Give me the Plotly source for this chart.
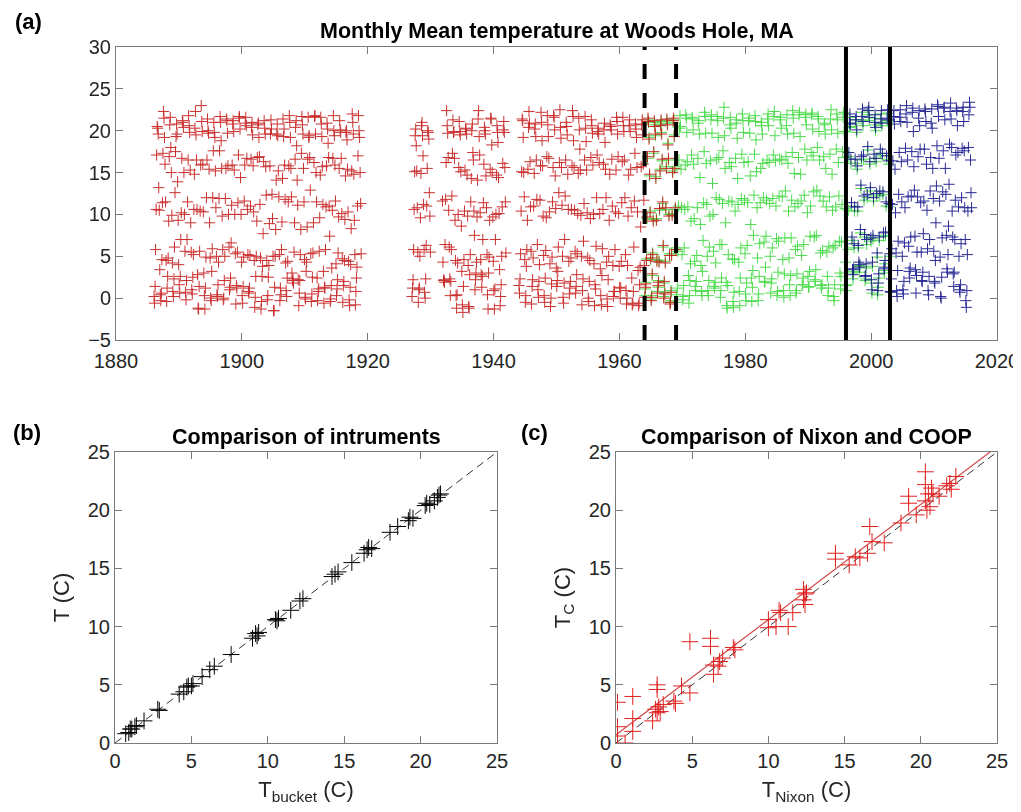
import numpy as np
import plotly.graph_objects as go

# ---- panel (a): monthly mean temperature, one row per year, Jan..Dec (None = missing)
bucket_years = list(range(1886, 1919)) + [1927, 1928, 1929, 1931] + list(range(1932, 1942)) + list(range(1944, 1969))
bucket_temps = [
    [0.2, -0.6, 1.4, 5.8, 10.6, 17.1, 20.5, 20.3, 19.6, 13.2, 10.5, 3.4],
    [0.4, -0.3, 0.6, 4.6, 11.4, 17.3, 22.3, 21.5, 19.2, 16.0, 11.5, 4.5],
    [-0.4, 1.2, 2.6, 4.8, 9.2, 16.9, 20.7, 21.6, 18.0, 15.0, 9.9, 4.2],
    [0.8, 0.2, 2.3, 6.1, 12.6, 17.5, 19.3, 20.8, 19.6, 13.9, 9.3, 4.0],
    [1.6, 0.6, 2.6, 7.0, 10.2, 16.7, 21.2, 21.0, 20.4, 15.0, 10.0, 5.6],
    [0.7, -0.2, 2.1, 7.0, 11.5, 16.5, 21.8, 20.6, 19.8, 15.3, 9.0, 5.5],
    [1.0, 0.5, 2.5, 5.2, 10.6, 14.8, 20.3, 22.3, 19.5, 16.5, 10.6, 2.8],
    [-1.2, -1.3, 1.4, 5.6, 10.4, 15.9, 23.0, 21.1, 19.9, 16.0, 10.3, 3.0],
    [0.3, -1.3, 1.2, 4.9, 12.0, 16.5, 21.4, 20.0, 19.7, 15.4, 9.0, 4.8],
    [0.0, -0.3, 3.2, 5.9, 12.0, 17.6, 21.0, 19.8, 19.2, 15.2, 10.8, 5.0],
    [0.4, 0.2, 1.6, 4.3, 11.9, 17.6, 21.7, 21.0, 18.8, 15.5, 9.8, 5.8],
    [-0.2, 0.0, 2.1, 5.0, 11.9, 15.5, 21.4, 21.2, 19.7, 15.8, 10.0, 6.1],
    [1.0, 1.3, 2.4, 6.6, 11.1, 15.9, 20.8, 21.2, 19.9, 15.3, 10.0, 5.3],
    [-0.7, 1.5, 1.2, 5.5, 11.4, 17.1, 21.5, 21.7, 20.2, 14.4, 10.0, 4.3],
    [0.3, -0.6, 1.4, 4.9, 11.6, 15.9, 20.9, 21.6, 20.6, 16.7, 10.6, 5.2],
    [0.8, 0.6, 1.2, 5.1, 11.0, 16.6, 20.4, 21.0, 19.5, 15.8, 10.3, 4.5],
    [-1.1, 0.1, 2.6, 5.0, 9.2, 16.8, 20.7, 20.9, 19.2, 16.9, 11.2, 4.8],
    [-1.3, -0.4, 2.6, 3.8, 7.7, 16.3, 21.2, 20.3, 19.6, 15.7, 12.3, 4.5],
    [-0.2, 0.3, 2.5, 3.9, 8.9, 15.8, 19.6, 21.3, 20.2, 12.4, 9.5, 5.0],
    [-1.5, -1.5, 1.3, 5.0, 8.2, 14.1, 19.6, 20.8, 19.4, 15.2, 12.1, 5.2],
    [-0.3, 1.2, 0.4, 5.8, 9.1, 14.3, 21.4, 19.3, 20.2, 15.9, 11.8, 4.2],
    [0.9, 0.2, 2.4, 4.4, 11.5, 15.8, 21.8, 21.0, 19.2, 15.5, 12.1, 3.0],
    [2.1, 2.3, 1.8, 5.5, 9.0, 16.6, 20.4, 21.2, 18.2, 14.1, 11.1, 2.2],
    [-0.9, 0.6, 2.1, 5.2, 8.2, 17.3, 21.7, 20.7, 19.6, 15.5, 11.5, 4.6],
    [0.1, -0.1, 3.2, 4.3, 8.5, 16.6, 21.6, 19.2, 19.4, 16.8, 12.9, 5.3],
    [-0.4, 0.5, 2.5, 5.4, 9.0, 16.2, 21.7, 21.8, 19.6, 15.0, 11.5, 2.4],
    [-0.3, 0.8, 1.1, 5.6, 9.6, 14.7, 21.6, 20.8, 19.3, 15.7, 11.2, 3.2],
    [-0.6, 1.3, 1.2, 5.8, 10.9, 15.8, 20.9, 20.2, 18.5, 16.8, 11.0, 7.4],
    [-0.4, -0.1, 1.5, 3.6, 10.5, 16.7, 21.8, 20.0, 19.4, 15.9, 11.6, 4.1],
    [0.3, 1.1, 2.2, 5.4, 9.7, 15.5, 21.2, 20.1, 19.8, 16.7, 10.1, 4.7],
    [-0.5, 1.5, 2.0, 4.5, 9.4, 14.6, 19.8, 20.0, 18.9, 15.4, 10.3, 4.4],
    [-0.2, -0.9, 1.3, 4.0, 8.3, 15.2, 22.0, 21.0, 19.6, 14.8, 9.3, 5.2],
    [-0.8, 0.8, 2.4, 3.7, 11.0, 17.0, 21.8, 20.0, 19.2, 15.0, 11.3, 5.3],
    [0.2, 1.2, 2.2, 5.8, 10.6, 15.1, 19.4, 20.2, 18.2, 15.2, 10.8, 5.5],
    [-0.5, 1.0, 1.2, 5.0, 9.6, 14.9, 20.6, 21.0, 19.4, 17.0, 11.2, 5.8],
    [0.7, 0.0, 2.3, 6.3, 11.0, 15.5, 20.0, 19.8, 19.0, 12.6, 9.8, 5.5],
    [None, None, None, None, None, None, None, None, None, None, 11.6, 4.3],
    [2.1, 2.2, 1.9, 6.4, 11.8, 16.2, 22.4, 20.6, 19.7, 16.8, 10.5, 6.1],
    [2.3, 0.3, 2.0, 5.8, 12.2, 17.3, 21.3, 19.8, 19.9, 16.7, 9.3, 4.5],
    [0.3, -1.2, 0.4, 4.2, 10.0, 15.6, 21.1, 19.9, 19.5, 15.1, 8.6, 3.2],
    [-0.8, -1.7, 1.4, 4.6, 10.4, 15.3, 20.2, 20.3, 19.6, 14.7, 9.8, 3.9],
    [-1.0, -1.2, 2.8, 5.2, 11.5, 14.3, 20.0, 20.8, 17.4, 16.5, 10.4, 7.5],
    [1.0, 2.2, 3.0, 4.3, 9.7, 14.1, 21.4, 22.4, 19.3, 17.1, 10.2, 4.6],
    [2.8, 1.3, 2.6, 7.0, 11.4, 16.0, 20.4, 20.0, 19.6, 14.6, 10.8, 5.2],
    [0.4, -1.3, 3.0, 4.9, 9.3, 15.4, 21.5, 21.4, 18.3, 15.0, 9.7, 4.4],
    [0.9, -1.3, 1.1, 7.0, 10.0, 14.7, 20.6, 19.8, 18.6, 14.4, 10.1, 3.4],
    [-0.9, 0.2, 1.6, 5.0, 10.9, 16.1, 20.1, 21.1, 19.8, 15.6, 11.5, 5.4],
    [1.5, 0.6, 2.3, 5.3, 10.4, 15.1, 21.4, 21.2, 19.2, 15.0, 12.1, 4.6],
    [-0.5, 0.3, 3.8, 5.8, 9.3, 15.4, 20.4, 22.3, 20.9, 16.3, 10.9, 5.6],
    [-0.7, 1.4, 2.2, 4.8, 11.0, 14.9, 20.2, 20.8, 19.3, 16.5, 11.8, 6.4],
    [1.0, 0.1, 2.0, 4.0, 11.7, 15.8, 22.2, 21.0, 18.8, 15.8, 9.8, 5.1],
    [0.3, -0.5, 2.4, 5.7, 9.6, 16.9, 21.8, 20.7, 19.3, 16.7, 10.3, 4.1],
    [-1.0, 0.0, 1.7, 4.9, 11.5, 15.6, 21.8, 21.6, 20.1, 14.6, 10.7, 3.6],
    [1.4, 2.1, 3.2, 6.1, 12.6, 16.2, 22.5, 20.4, 19.1, 15.6, 11.1, 5.0],
    [0.1, -0.6, 1.8, 7.0, 12.2, 16.5, 21.0, 20.5, 19.5, 14.8, 10.6, 4.4],
    [0.5, 1.2, 2.0, 4.8, 10.6, 15.8, 22.4, 21.7, 18.8, 15.6, 10.5, 5.6],
    [0.6, 1.4, 2.8, 5.3, 10.1, 14.9, 21.5, 20.1, 17.8, 15.3, 9.9, 5.0],
    [-0.8, 0.9, 2.3, 6.8, 11.3, 16.5, 21.7, 20.3, 18.7, 15.3, 10.2, 4.8],
    [0.0, -0.4, 2.0, 4.5, 9.5, 16.8, 21.3, 20.6, 19.7, 15.9, 10.0, 4.1],
    [-0.9, 1.6, 1.1, 6.2, 12.0, 17.1, 19.9, 20.3, 19.6, 16.2, 10.1, 3.5],
    [0.3, -0.8, 2.7, 5.9, 10.6, 16.0, 20.1, 20.9, 18.6, 15.4, 12.0, 4.3],
    [-0.1, -1.0, 2.2, 5.0, 9.3, 14.8, 20.7, 20.5, 20.1, 16.6, 11.0, 3.9],
    [0.2, 0.8, 0.8, 5.8, 10.3, 15.3, 21.6, 21.1, 19.6, 16.9, 10.1, 3.8],
    [1.3, 0.0, 1.2, 4.4, 11.4, 16.3, 21.6, 20.6, 19.9, 16.5, 12.0, 5.2],
    [0.9, -0.7, 0.0, 3.9, 9.8, 14.7, 20.6, 21.3, 19.9, 15.4, 10.8, 2.4],
    [-0.8, -0.6, 0.8, 6.1, 11.6, 17.3, 20.8, 20.2, 19.2, 15.6, 10.3, 3.3],
    [-0.9, -0.6, 1.6, 3.7, 8.5, 15.7, 20.7, 21.3, 19.5, 16.0, 11.7, 3.9],
    [0.1, 1.3, 1.7, 4.5, 9.7, 16.9, 21.5, 21.1, 19.0, 14.8, 10.2, 4.8],
    [-0.3, 0.1, 2.9, 5.2, 9.2, 17.5, 21.2, 20.5, 19.6, 14.3, 9.3, 4.4],
    [0.6, 1.5, 1.9, 4.3, 10.7, 15.2, 20.6, 21.3, 19.6, 16.6, 11.5, 6.3],
    [0.0, 2.0, 0.5, 4.2, 10.8, 15.5, 21.4, 20.7, 18.3, 16.7, 9.8, 5.1],
    [-0.7, -0.5, 0.7, 5.1, 9.9, 15.0, 21.2, 21.5, 19.3, 15.5, 10.8, 5.8],
]

nixon_years = list(range(1964, 2003))
nixon_temps = [
    [0.3, 1.1, 1.9, 4.7, 9.5, 16.7, 21.3, 21.0, 19.2, 14.6, 10.4, 4.6],
    [-0.1, 0.3, 2.7, 5.4, 9.4, 17.3, 21.0, 20.7, 19.4, 14.5, 9.5, 4.6],
    [0.8, 1.3, 2.1, 4.5, 10.5, 15.4, 20.8, 21.1, 19.8, 16.4, 11.3, 6.1],
    [0.2, 1.8, 0.7, 4.4, 10.6, 15.7, 21.2, 20.9, 18.5, 16.5, 10.0, 5.3],
    [-0.5, -0.3, 0.9, 5.3, 10.1, 15.2, 21.0, 21.3, 19.5, 15.7, 10.6, 6.0],
    [0.4, -0.5, 1.2, 5.6, 11.0, 16.5, 20.3, 21.8, 20.5, 15.4, 10.8, 5.2],
    [-0.2, 0.2, 1.5, 6.0, 10.6, 15.9, 21.9, 21.5, 19.8, 16.3, 10.9, 2.7],
    [-0.6, 0.3, 2.1, 4.1, 9.2, 17.1, 21.6, 21.4, 20.1, 16.0, 9.5, 4.4],
    [1.4, 0.9, 2.0, 5.1, 10.8, 16.7, 20.9, 21.2, 19.6, 14.4, 8.8, 3.9],
    [0.8, 0.3, 3.2, 6.9, 11.4, 17.5, 22.2, 21.7, 19.7, 16.1, 11.2, 5.0],
    [0.9, 0.3, 2.1, 6.1, 9.8, 16.4, 21.3, 21.9, 19.7, 13.7, 10.0, 5.6],
    [1.4, 1.2, 1.9, 4.2, 12.0, 16.6, 21.7, 21.2, 19.2, 16.8, 11.8, 6.4],
    [0.1, 0.9, 2.4, 6.4, 11.3, 17.6, 21.5, 22.8, 19.4, 15.5, 9.0, 1.9],
    [-0.9, -1.2, 1.5, 5.2, 11.6, 16.2, 20.7, 21.6, 20.3, 15.7, 11.5, 4.7],
    [-0.4, -1.1, 0.7, 4.6, 10.4, 16.7, 20.9, 21.3, 19.1, 14.3, 11.2, 4.3],
    [0.8, -0.9, 2.4, 6.0, 11.9, 17.2, 22.0, 21.2, 19.8, 16.2, 11.7, 5.3],
    [0.5, -0.3, 1.8, 6.3, 11.4, 16.3, 21.2, 21.5, 19.7, 14.6, 8.8, 2.4],
    [-0.4, 1.3, 3.3, 7.5, 12.3, 17.2, 21.8, 21.1, 18.9, 15.1, 10.8, 4.8],
    [-0.3, 0.5, 2.6, 6.5, 11.4, 15.5, 21.0, 20.6, 19.6, 16.1, 12.0, 6.7],
    [1.9, 2.0, 3.7, 7.4, 11.7, 16.5, 21.4, 22.0, 20.6, 16.2, 11.3, 5.0],
    [0.6, 1.8, 2.3, 6.0, 11.9, 17.1, 21.7, 22.3, 19.4, 16.4, 11.0, 7.1],
    [0.3, 0.8, 3.1, 6.8, 12.2, 16.6, 21.3, 21.6, 20.3, 16.5, 12.1, 4.6],
    [0.9, 0.1, 2.9, 7.2, 12.8, 16.9, 20.6, 21.9, 19.6, 16.1, 10.4, 4.8],
    [1.6, 0.3, 2.7, 7.2, 11.7, 17.4, 22.4, 21.5, 19.7, 14.9, 10.9, 5.8],
    [0.6, 0.9, 2.9, 6.2, 11.3, 16.8, 21.9, 22.2, 19.3, 14.8, 11.6, 5.1],
    [1.6, 1.6, 2.4, 6.4, 12.3, 17.8, 21.6, 22.0, 20.7, 16.5, 10.2, 2.6],
    [1.3, 1.4, 3.2, 7.4, 11.0, 17.4, 21.9, 22.1, 20.2, 17.0, 12.7, 7.3],
    [2.2, 2.0, 3.4, 7.5, 12.9, 18.0, 21.7, 21.4, 19.9, 16.5, 12.2, 5.4],
    [1.5, 1.2, 1.6, 5.7, 11.6, 16.9, 20.7, 20.9, 19.6, 15.5, 10.9, 5.5],
    [2.6, 0.3, 1.2, 6.2, 12.1, 17.2, 21.4, 22.5, 20.1, 14.8, 10.5, 6.0],
    [0.2, -0.3, 1.6, 6.3, 10.9, 17.8, 22.0, 21.3, 19.7, 16.2, 12.2, 6.8],
    [3.0, 1.1, 2.6, 6.7, 11.2, 17.5, 21.6, 22.2, 19.9, 16.8, 10.7, 4.3],
    [1.5, 0.9, 1.6, 5.8, 10.5, 16.9, 20.4, 21.6, 20.5, 16.1, 11.0, 6.9],
    [3.0, 2.3, 3.2, 6.0, 10.4, 16.1, 20.9, 21.3, 19.8, 15.4, 10.4, 6.0],
    [3.9, 3.1, 3.8, 7.8, 13.1, 16.5, 21.3, 22.2, 20.6, 16.6, 11.7, 7.3],
    [2.1, 2.3, 3.6, 6.4, 12.0, 17.7, 21.9, 22.4, 21.2, 16.0, 12.8, 6.8],
    [1.8, 0.6, 3.8, 7.1, 11.6, 16.7, 20.7, 21.5, 20.0, 16.3, 12.2, 4.9],
    [0.4, 1.3, 2.4, 6.9, 12.3, 17.3, 21.0, 22.0, 20.6, 17.0, 12.4, 7.4],
    [3.3, 3.0, 4.1, 7.5, 11.0, 16.6, 21.2, 22.1, 21.0, 16.0, 10.9, 5.0],
]

coop_years = list(range(1996, 2016))
coop_temps = [
    [None, None, None, None, None, 17.4, 20.9, 22.0, 20.8, 16.6, 11.4, 7.3],
    [3.4, 2.8, 3.5, 6.5, 10.9, 16.6, 21.3, 21.7, 20.1, 15.8, 10.9, 6.3],
    [4.3, 3.7, 4.0, 8.2, 13.5, 16.9, 21.7, 22.6, 21.1, 17.1, 12.2, 7.6],
    [2.6, 2.7, 4.1, 7.0, 12.4, 18.1, 22.4, 22.8, 21.6, 16.3, 13.2, 7.2],
    [2.2, 1.0, 4.3, 7.5, 12.0, 17.2, 21.0, 21.9, 20.4, 16.7, 12.5, 5.4],
    [0.9, 1.8, 2.9, 7.3, 12.8, 17.8, 21.4, 22.4, 20.9, 17.3, 12.7, 7.8],
    [3.7, 3.5, 4.5, 7.9, 11.5, 17.0, 21.5, 22.5, 21.3, 16.4, 11.3, 5.3],
    [0.8, 0.7, 2.3, 5.9, 11.2, 16.4, 21.7, 22.4, 20.8, 15.4, 10.2, 5.4],
    [0.9, 0.2, 3.3, 6.8, 12.4, 17.4, 21.6, 22.5, 21.1, 16.3, 11.5, 5.0],
    [1.0, 0.5, 2.0, 6.6, 10.8, 17.9, 22.0, 23.0, 21.0, 16.5, 12.1, 6.2],
    [3.2, 2.4, 3.6, 7.3, 12.2, 17.5, 22.2, 22.7, 19.9, 15.7, 12.9, 7.4],
    [3.4, 0.6, 2.7, 5.5, 12.1, 16.9, 21.5, 22.4, 20.6, 17.8, 11.4, 5.5],
    [2.1, 2.0, 3.1, 7.7, 11.6, 17.8, 22.6, 22.3, 21.1, 16.0, 10.5, 5.9],
    [0.9, 0.4, 2.6, 7.0, 12.8, 16.8, 20.9, 22.6, 20.3, 15.5, 11.9, 5.6],
    [2.0, 1.8, 4.5, 9.0, 13.4, 18.2, 23.1, 22.9, 21.7, 16.7, 11.6, 4.9],
    [0.2, 0.0, 2.5, 7.2, 12.7, 17.6, 22.7, 22.8, 21.3, 15.5, 12.4, 7.5],
    [3.5, 3.1, 5.2, 8.6, 13.6, 18.4, 22.3, 23.3, 21.4, 18.0, 10.4, 7.3],
    [2.9, 1.4, 3.1, 7.0, 11.7, 17.1, 22.7, 22.4, 20.6, 17.4, 10.9, 5.0],
    [1.0, 0.7, 1.6, 6.5, 12.0, 17.9, 22.3, 22.8, 21.1, 17.6, 10.8, 7.0],
    [-0.3, -1.1, 0.9, 5.2, 10.4, 18.0, 21.9, 23.4, 22.8, 16.5, 12.6, 10.8],
]

instrument_changes_dashed = [1964, 1969]
instrument_changes_solid = [1996, 2003]

# ---- panel (b): bucket vs thermometer
t_bucket = [0.7, 0.9, 1.0, 1.1, 1.3, 1.4, 1.9, 2.8, 2.9, 4.2, 4.5, 4.7, 4.8, 5.0, 5.1,
            5.7, 6.2, 6.5, 7.6, 9.0, 9.2, 9.3, 9.4, 10.5, 10.6, 10.7, 11.5, 12.1, 12.3,
            14.2, 14.4, 14.6, 15.5, 16.3, 16.5, 16.6, 16.8, 18.0, 18.5, 19.2, 19.3, 19.5,
            20.3, 20.4, 20.6, 20.9, 21.1, 21.2, 21.3]
t_inst = [0.8, 0.9, 1.2, 1.2, 1.4, 1.5, 1.9, 2.9, 2.8, 4.2, 4.4, 4.8, 4.9, 4.9, 5.1,
          5.7, 6.3, 6.6, 7.6, 9.0, 9.4, 9.2, 9.5, 10.6, 10.5, 10.7, 11.4, 12.2, 12.4,
          14.3, 14.5, 14.7, 15.5, 16.3, 16.6, 16.8, 16.7, 18.1, 18.6, 19.1, 19.4, 19.3,
          20.4, 20.6, 20.5, 20.8, 21.1, 21.3, 21.4]

# ---- panel (c): Nixon vs COOP
t_nixon = [0.1, 0.1, 0.1, 0.6, 1.1, 1.1, 1.1, 2.4, 2.7, 2.7, 2.6, 2.8, 2.9, 2.7, 3.1,
           3.8, 3.9, 4.3, 4.85, 4.85, 6.2, 6.2, 6.4, 6.4, 6.7, 6.8, 7.0, 7.7, 7.8,
           10.0, 10.0, 10.5, 10.7, 10.8, 11.3, 11.6, 12.3, 12.3, 12.4, 12.4, 12.5,
           14.4, 14.4, 15.3, 15.7, 16.0, 16.5, 16.65, 16.8, 17.6, 18.7, 19.2, 19.2, 19.7,
           20.3, 20.3, 20.3, 20.4, 20.5, 20.6, 20.7, 20.8, 21.2, 21.7, 21.9, 22.0, 22.3]
t_coop = [3.5, 1.4, 0.6, 0.0, 4.0, 2.1, 1.0, 1.9, 5.0, 4.6, 2.9, 3.1, 2.7, 2.6, 3.3,
          3.6, 3.4, 4.9, 8.7, 4.3, 9.0, 8.3, 6.7, 5.9, 6.6, 7.0, 7.3, 8.2, 8.0,
          10.6, 9.9, 10.0, 11.4, 11.2, 10.0, 11.2, 13.2, 12.3, 12.8, 11.9, 12.9,
          16.3, 15.8, 15.3, 16.0, 15.9, 16.3, 18.6, 17.3, 17.2, 18.9, 21.2, 20.6, 19.6,
          23.3, 22.2, 20.8, 20.0, 21.4, 20.3, 21.9, 21.4, 21.2, 22.1, 22.3, 21.8, 22.9]

# page is drawn 8px in from the top-left corner (body margin), so the figure is 8px smaller
OFF = 8
W, H = 1021 - OFF, 812 - OFF
FONT = "Liberation Sans, Arial, sans-serif"
AX = "#262626"
RED = "#c41818"
GREEN = "#3ad83a"
BLUE = "#14148c"


def monthly_points(years, rows):
    xs, ys = [], []
    for yr, row in zip(years, rows):
        for m, t in enumerate(row):
            if t is None:
                continue
            xs.append(yr + (m + 0.5) / 12)
            ys.append(t)
    return xs, ys


def sx(px):
    return (px - OFF) / W


def sy(py):
    return 1 - (py - OFF) / H


fig = go.Figure()

for years, rows, color in [(nixon_years, nixon_temps, GREEN),
                           (bucket_years, bucket_temps, RED),
                           (coop_years, coop_temps, BLUE)]:
    xs, ys = monthly_points(years, rows)
    fig.add_trace(go.Scatter(
        x=xs, y=ys, mode="markers", xaxis="x", yaxis="y",
        marker=dict(symbol="cross-thin", size=8, line=dict(width=1, color=color)),
        opacity=0.9, showlegend=False,
    ))

for yr in instrument_changes_dashed:
    fig.add_trace(go.Scatter(x=[yr, yr], y=[-5, 30], mode="lines", xaxis="x", yaxis="y",
                             line=dict(color="black", width=4, dash="15px,14px"), showlegend=False))
for yr in instrument_changes_solid:
    fig.add_trace(go.Scatter(x=[yr, yr], y=[-5, 30], mode="lines", xaxis="x", yaxis="y",
                             line=dict(color="black", width=4), showlegend=False))

# panel b
fig.add_trace(go.Scatter(x=[0, 25], y=[0, 25], mode="lines", xaxis="x2", yaxis="y2",
                         line=dict(color="#333333", width=1, dash="8px,5px"), showlegend=False))
fig.add_trace(go.Scatter(x=t_bucket, y=t_inst, mode="markers", xaxis="x2", yaxis="y2",
                         marker=dict(symbol="cross-thin", size=12, line=dict(width=1, color="black")),
                         showlegend=False))

# panel c
slope, icpt = np.polyfit(t_nixon, t_coop, 1)
fig.add_trace(go.Scatter(x=[0, 25], y=[0, 25], mode="lines", xaxis="x3", yaxis="y3",
                         line=dict(color="#333333", width=1, dash="8px,5px"), showlegend=False))
fig.add_trace(go.Scatter(x=[0, 25], y=[icpt, icpt + 25 * slope], mode="lines", xaxis="x3", yaxis="y3",
                         line=dict(color="#d04848", width=1.2), showlegend=False))
fig.add_trace(go.Scatter(x=t_nixon, y=t_coop, mode="markers", xaxis="x3", yaxis="y3",
                         marker=dict(symbol="cross-thin", size=12, line=dict(width=1, color="#e01e1e")),
                         showlegend=False))

axis_style = dict(showline=True, mirror="ticks", linecolor="#7a7a7a", linewidth=1,
                  ticks="inside", ticklen=7, tickcolor="#7a7a7a", showgrid=False, zeroline=False,
                  automargin=False, tickfont=dict(family=FONT, size=20, color=AX))
title_font = dict(family=FONT, size=22, color=AX)

fig.update_layout(
    width=W, height=H, autosize=False,
    margin=dict(l=0, r=0, t=0, b=0),
    paper_bgcolor="white", plot_bgcolor="white",
    font=dict(family=FONT, color=AX),
    xaxis=dict(domain=[sx(116), sx(997)], range=[1880, 2020], dtick=20, anchor="y",
               ticklabelstandoff=3, **axis_style),
    yaxis=dict(domain=[sy(340), sy(47)], range=[-5, 30], dtick=5, anchor="x", **axis_style),
    xaxis2=dict(domain=[sx(115), sx(497)], range=[0, 25], dtick=5, anchor="y2",
                title=dict(text="T<sub>bucket</sub> (C)", font=title_font, standoff=10), **axis_style),
    yaxis2=dict(domain=[sy(743), sy(452)], range=[0, 25], dtick=5, anchor="x2",
                title=dict(text="T (C)", font=title_font, standoff=12), **axis_style),
    xaxis3=dict(domain=[sx(616), sx(997)], range=[0, 25], dtick=5, anchor="y3",
                title=dict(text="T<sub>Nixon</sub> (C)", font=title_font, standoff=10), **axis_style),
    yaxis3=dict(domain=[sy(743), sy(452)], range=[0, 25], dtick=5, anchor="x3",
                title=dict(text="T<sub>C</sub> (C)", font=title_font, standoff=12), **axis_style),
)

labels = [
    ("<b>Monthly Mean temperature at Woods Hole, MA</b>", (116 + 997) / 2, 31, 21.5),
    ("<b>Comparison of intruments</b>", (115 + 497) / 2, 437, 21.5),
    ("<b>Comparison of Nixon and COOP</b>", (616 + 997) / 2, 437, 21.5),
    ("<b>(a)</b>", 28, 22, 22),
    ("<b>(b)</b>", 27, 432, 22),
    ("<b>(c)</b>", 534, 432, 22),
]
for text, x, y, size in labels:
    fig.add_annotation(text=text, x=sx(x), y=sy(y), xref="paper", yref="paper",
                       showarrow=False, xanchor="center", yanchor="middle",
                       font=dict(family=FONT, size=size, color="black"))

fig.write_html("out.html")
